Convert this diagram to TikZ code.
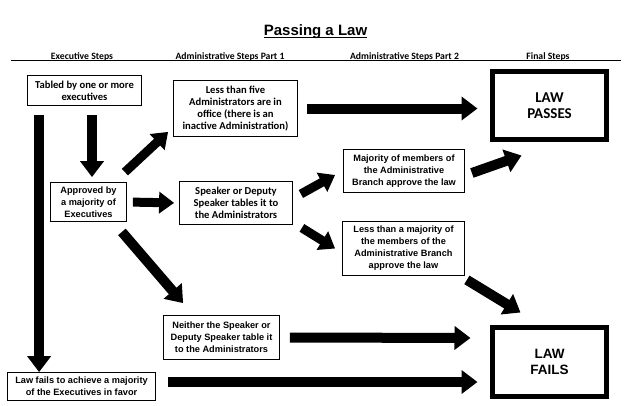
\documentclass[tikz,border=0pt]{standalone}
\usepackage{fontspec}
\setmainfont{Liberation Sans}
\newfontfamily\calfont{Carlito}
\usetikzlibrary{arrows.meta}

\tikzset{
  stepbox/.style={draw, line width=0.8pt, align=center, inner sep=2pt,
    font=\fontsize{9.2}{12}\selectfont\bfseries},
  calbox/.style={stepbox, font=\calfont\fontsize{10.6}{12.2}\selectfont\bfseries},
  finalbox/.style={draw, line width=5pt, align=center, minimum width=114pt, minimum height=68pt},
  colhead/.style={anchor=base, font=\calfont\fontsize{9.7}{11}\selectfont\bfseries},
  bigarrow/.style={line width=10pt, -{Triangle[width=23pt,length=16pt]}},
  midarrow/.style={line width=9pt, -{Triangle[width=21pt,length=15pt]}},
}

\begin{document}
\begin{tikzpicture}[x=1pt, y=-1pt]

        \useasboundingbox (0,0) rectangle (640,405);

        % title and column heads
        \node[anchor=base, inner sep=0pt, font=\fontsize{15}{18}\selectfont\bfseries] (title) at (315.5,35) {Passing a Law};
        \draw[line width=1.3pt] ([yshift=-2.2pt]title.base west) -- ([yshift=-2.2pt]title.base east);
        \node[colhead] (hexec) at (82,59) {Executive Steps};
        \node[colhead] (hadm1) at (230,59) {Administrative Steps Part 1};
        \node[colhead] (hadm2) at (404.5,59) {Administrative Steps Part 2};
        \node[colhead] (hfinal) at (548,59) {Final Steps};
        \draw[line width=1pt] (11,60.7) -- (621,60.7);

        % steps
        \node[calbox, minimum width=114pt, minimum height=30pt] (tabled) at (84.5,90.5) {Tabled by one or more\\executives};
        \node[stepbox, minimum width=76pt, minimum height=39pt] (appr) at (88.5,202) {Approved by\\a majority of\\Executives};
        \node[stepbox, minimum width=148pt, minimum height=28pt] (lawfail) at (81.5,386.5) {Law fails to achieve a majority\\of the Executives in favor};

        \node[calbox, minimum width=124pt, minimum height=56pt] (less5) at (235.5,108.5) {Less than five\\Administrators are in\\office (there is an\\inactive Administration)};
        \node[calbox, minimum width=113pt, minimum height=43pt] (speaker) at (236,203) {Speaker or Deputy\\Speaker tables it to\\the Administrators};
        \node[stepbox, minimum width=116pt, minimum height=44pt] (neither) at (221.5,337.5) {Neither the Speaker or\\Deputy Speaker table it\\to the Administrators};

        \node[stepbox, minimum width=121pt, minimum height=43pt] (major) at (404,171) {Majority of members of\\the Administrative\\Branch approve the law};
        \node[stepbox, minimum width=122pt, minimum height=54pt] (lessmaj) at (403.5,248.5) {Less than a majority of\\the members of the\\Administrative Branch\\approve the law};

        \node[finalbox, font=\calfont\fontsize{15}{16}\selectfont\bfseries] (passes) at (549.5,105.5) {LAW\\PASSES};
        \node[finalbox, minimum height=69pt, font=\fontsize{13.5}{15.7}\selectfont\bfseries] (fails) at (549.5,362) {LAW\\FAILS};

        % arrows
        \draw[bigarrow, shorten <=9pt, shorten >=5pt] ([xshift=7.5pt]tabled.south) -- ([xshift=3.5pt]appr.north);
        \draw[bigarrow, shorten <=9pt] ([xshift=12pt]tabled.south west) -- ([xshift=32pt]lawfail.north west);

        \draw[midarrow] ([xshift=-2pt,yshift=10pt]appr.north east) -- ([xshift=-5pt,yshift=5pt]less5.south west);
        \draw[midarrow, shorten <=6pt, shorten >=5pt] (appr.east) -- (speaker.west);
        \draw[bigarrow] ([xshift=-5pt,yshift=-10pt]appr.south east) -- ([xshift=20pt,yshift=12pt]neither.north west);

        \draw[bigarrow, shorten <=9pt, shorten >=12.5pt] (less5.east) -- (less5.east -| passes.west);
        \draw[midarrow] ([xshift=8pt,yshift=9pt]speaker.east) -- ([xshift=-8pt,yshift=-4pt]major.west);
        \draw[midarrow] ([xshift=9pt,yshift=-3pt]speaker.south east) -- ([xshift=-7pt]lessmaj.west);
        \draw[bigarrow, shorten <=10pt, shorten >=19.5pt] (neither.east) -- ([yshift=24pt]fails.west);

        \draw[bigarrow] ([xshift=7pt,yshift=-2pt]major.east) -- ([xshift=31.5pt,yshift=-13.5pt]passes.south west);
        \draw[bigarrow] ([xshift=2pt,yshift=-4pt]lessmaj.south east) -- ([xshift=30.5pt,yshift=12.5pt]fails.north west);
        \draw[bigarrow, shorten <=12pt, shorten >=12.5pt] ([yshift=4.5pt]lawfail.east) -- ([yshift=-20pt]fails.west);

      \end{tikzpicture}
\end{document}
